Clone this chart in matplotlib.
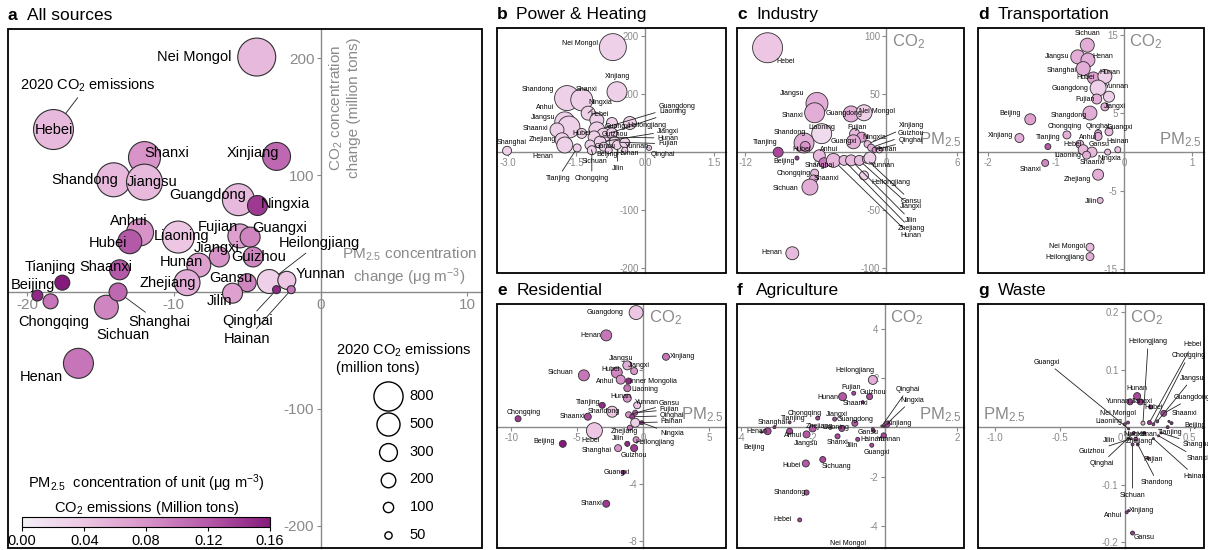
import numpy as np
import matplotlib
matplotlib.use('Agg')
import matplotlib.pyplot as plt
from matplotlib.colors import LinearSegmentedColormap
from matplotlib.patches import Rectangle
from matplotlib.transforms import blended_transform_factory as blend

plt.rcParams['font.family'] = ['Liberation Sans', 'DejaVu Sans']
plt.rcParams['mathtext.default'] = 'regular'

# ---------------- panel a : all sources ----------------
a_names = ['Hebei', 'Nei Mongol', 'Shanxi', 'Shandong', 'Jiangsu', 'Xinjiang', 'Guangdong',
           'Ningxia', 'Liaoning', 'Anhui', 'Hubei', 'Fujian', 'Guangxi', 'Jiangxi', 'Guizhou',
           'Hunan', 'Zhejiang', 'Henan', 'Sichuan', 'Shaanxi', 'Shanghai', 'Heilongjiang',
           'Yunnan', 'Gansu', 'Jilin', 'Tianjing', 'Chongqing', 'Beijing', 'Qinghai', 'Hainan']
a_x = [-18.2, -4.35, -12.0, -14.1, -12.0, -3.0, -5.6, -4.3, -9.7, -12.3, -13.0, -5.5, -4.8,
       -6.9, -4.6, -8.3, -9.1, -16.5, -14.6, -13.7, -13.8, -3.5, -2.3, -5.0, -6.0, -17.6,
       -18.4, -19.3, -3.0, -2.0]
a_y = [139, 201, 115, 96, 94, 116, 79, 74, 47, 51, 43, 48, 47, 30, 30, 23, 8, -61, -13, 19,
       0, 9, 10, 8, -1, 8, -8, -3, 2, 2]
a_emis = [1504, 1357, 963, 1087, 1218, 737, 963, 376, 963, 685, 541, 541, 376, 376, 376, 541,
          635, 846, 541, 376, 305, 541, 305, 305, 376, 211, 211, 114, 60, 60]
a_conc = [0.05, 0.05, 0.08, 0.05, 0.05, 0.11, 0.05, 0.14, 0.04, 0.08, 0.12, 0.07, 0.09, 0.08,
          0.09, 0.07, 0.06, 0.10, 0.09, 0.12, 0.11, 0.03, 0.04, 0.09, 0.07, 0.16, 0.10, 0.15,
          0.15, 0.10]
a_lab = {'Nei Mongol': (-8.6, 201), 'Hebei': (-18.2, 139), 'Shanxi': (-10.5, 119),
         'Xinjiang': (-4.6, 119), 'Shandong': (-16.1, 96), 'Jiangsu': (-11.5, 94),
         'Guangdong': (-7.7, 83), 'Ningxia': (-2.4, 75), 'Anhui': (-13.1, 61),
         'Hubei': (-14.5, 42), 'Liaoning': (-9.5, 48), 'Fujian': (-7.0, 56),
         'Guangxi': (-2.8, 55), 'Heilongjiang': (-0.1, 42), 'Jiangxi': (-7.1, 38),
         'Guizhou': (-4.2, 30), 'Hunan': (-9.5, 26), 'Tianjing': (-18.4, 21),
         'Shaanxi': (-14.6, 21), 'Zhejiang': (-10.4, 8), 'Beijing': (-19.6, 6),
         'Gansu': (-6.1, 12), 'Yunnan': (0.0, 15), 'Jilin': (-6.9, -8),
         'Chongqing': (-18.2, -26), 'Sichuan': (-13.5, -37), 'Shanghai': (-11.0, -26),
         'Qinghai': (-5.0, -25), 'Hainan': (-5.0, -40), 'Henan': (-19.0, -73)}
a_lines = {'Heilongjiang', 'Shanghai', 'Qinghai', 'Hainan'}

# ---------------- panel b : power & heating ----------------
b_names = ['Nei Mongol', 'Shandong', 'Shanxi', 'Xinjiang', 'Anhui', 'Jiangsu', 'Ningxia', 'Hebei',
           'Guangdong', 'Liaoning', 'Shaanxi', 'Zhejiang', 'Henan', 'Hubei', 'Hunan', 'Jiangxi',
           'Sichuan', 'Guangxi', 'Heilongjiang', 'Guizhou', 'Fujian', 'Jilin', 'Yunnan', 'Gansu',
           'Beijing', 'Chongqing', 'Tianjing', 'Hainan', 'Qinghai', 'Shanghai']
b_x = [-0.70, -1.70, -1.38, -0.61, -1.75, -1.66, -1.24, -1.05, -1.05, -0.90, -1.92, -1.81,
       -1.75, -1.38, -1.11, -0.98, -1.20, -0.72, -0.33, -0.72, -0.66, -0.61, -0.44, -0.90,
       -0.79, -1.16, -1.48, -0.44, 0.09, -3.01]
b_y = [181, 93, 90, 104, 52, 43, 67, 55, 38, 29, 38, 21, 12, 32, 26, 17, 12, 50, 50, 32, 17,
       12, 16, 9, 3, 3, 7, 3, 7, 2]
b_emis = [685, 588, 455, 376, 376, 455, 184, 184, 241, 184, 184, 184, 241, 94, 135, 135, 94,
          114, 159, 114, 114, 76, 94, 76, 46, 76, 60, 34, 24, 76]
b_conc = [0.03] * 30
b_lab = {'Nei Mongol': (-1.42, 188), 'Xinjiang': (-0.59, 131), 'Shandong': (-2.33, 108),
         'Shanxi': (-1.27, 107), 'Ningxia': (-0.98, 86), 'Anhui': (-2.18, 76),
         'Jiangsu': (-2.22, 60), 'Hebei': (-0.98, 64), 'Shaanxi': (-2.40, 41),
         'Zhejiang': (-2.25, 21), 'Hubei': (-1.38, 32), 'Shanghai': (-2.90, 16),
         'Henan': (-2.22, -7), 'Sichuan': (-1.09, -17), 'Tianjing': (-1.90, -45),
         'Chongqing': (-1.16, -45), 'Beijing': (-0.83, -5), 'Jilin': (-0.59, -28),
         'Hainan': (-0.37, -3), 'Yunnan': (-0.17, 9), 'Qinghai': (0.39, -4),
         'Guangxi': (-0.60, 44), 'Guizhou': (-0.65, 30), 'Heilongjiang': (0.04, 45),
         'Gansu': (-0.86, 9), 'Guangdong': (0.70, 79), 'Liaoning': (0.61, 69),
         'Jiangxi': (0.50, 36), 'Hunan': (0.50, 24), 'Fujian': (0.50, 14)}
b_lines = {'Sichuan', 'Tianjing', 'Chongqing', 'Jilin', 'Qinghai', 'Guangdong', 'Liaoning',
           'Jiangxi', 'Hunan', 'Fujian', 'Ningxia'}

# ---------------- panel c : industry ----------------
c_names = ['Hebei', 'Jiangsu', 'Shanxi', 'Guangdong', 'Nei Mongol', 'Liaoning', 'Shandong',
           'Hubei', 'Fujian', 'Ningxia', 'Guangxi', 'Tianjing', 'Beijing', 'Anhui', 'Shanghai',
           'Hunan', 'Zhejiang', 'Jilin', 'Jiangxi', 'Gansu', 'Yunnan', 'Heilongjiang',
           'Chongqing', 'Shaanxi', 'Sichuan', 'Henan', 'Xinjiang', 'Guizhou', 'Qinghai', 'Hainan']
c_x = [-10.1, -5.9, -6.1, -3.0, -1.9, -5.5, -7.0, -6.9, -2.7, -2.1, -2.8, -9.2, -7.6, -5.7,
       -5.3, -4.5, -3.6, -3.0, -2.3, -1.7, -1.4, -1.9, -6.1, -6.2, -6.5, -8.0, -1.6, -1.3,
       -1.0, -0.6]
c_y = [90, 42, 34, 33, 34, 16, 8, 5, 16, 13, 9, 0, -5, -3, -9, -7, -7, -7, -7, -6, -5, -20,
       -18, -23, -30, -87, 7, 4, 2, 2]
c_emis = [848, 456, 376, 241, 241, 376, 376, 94, 94, 94, 184, 94, 15, 135, 94, 184, 94, 114,
          94, 60, 135, 76, 60, 60, 241, 159, 46, 46, 24, 34]
c_conc = [0.04, 0.06, 0.06, 0.06, 0.03, 0.02, 0.06, 0.08, 0.05, 0.07, 0.06, 0.13, 0.14, 0.05,
          0.10, 0.05, 0.05, 0.05, 0.05, 0.05, 0.03, 0.03, 0.05, 0.06, 0.06, 0.05, 0.05, 0.06,
          0.08, 0.05]
c_lab = {'Hebei': (-8.6, 78), 'Jiangsu': (-8.0, 51), 'Shanxi': (-8.0, 32),
         'Guangdong': (-3.6, 33), 'Nei Mongol': (-0.8, 35), 'Liaoning': (-5.5, 21),
         'Shandong': (-8.2, 17), 'Fujian': (-2.5, 21), 'Ningxia': (-1.0, 13),
         'Guangxi': (-3.6, 9), 'Tianjing': (-10.3, 8), 'Hubei': (-7.2, 2), 'Anhui': (-4.9, 2),
         'Beijing': (-8.7, -8), 'Shanghai': (-5.7, -11), 'Yunnan': (-0.3, -11),
         'Chongqing': (-7.9, -18), 'Shaanxi': (-5.1, -23), 'Heilongjiang': (0.4, -26),
         'Sichuan': (-8.6, -31), 'Henan': (-9.7, -86), 'Gansu': (2.1, -42),
         'Jiangxi': (2.1, -47), 'Jilin': (2.1, -59), 'Zhejiang': (2.1, -66),
         'Hunan': (2.1, -72), 'Xinjiang': (2.1, 23), 'Guizhou': (2.1, 16),
         'Qinghai': (2.1, 10), 'Hainan': (-0.1, 2)}
c_lines = {'Gansu', 'Jiangxi', 'Jilin', 'Zhejiang', 'Hunan', 'Xinjiang', 'Guizhou', 'Qinghai'}

# ---------------- panel d : transportation ----------------
d_names = ['Sichuan', 'Jiangsu', 'Henan', 'Shanghai', 'Hubei', 'Hunan', 'Guangdong', 'Yunnan',
           'Fujian', 'Jiangxi', 'Shangdong', 'Beijing', 'Chongqing', 'Qinghai', 'Guangxi',
           'Anhui', 'Xinjiang', 'Tianjing', 'Hebei', 'Gansu', 'Liaoning', 'Hainan', 'Ningxia',
           'Shanxi', 'Shaanxi', 'Zhejiang', 'Jilin', 'Nei Mongol', 'Heilongjiang']
d_x = [-0.54, -0.68, -0.53, -0.60, -0.45, -0.28, -0.38, -0.22, -0.40, -0.28, -0.50, -1.38,
       -0.84, -0.38, -0.22, -0.38, -1.54, -1.12, -0.65, -0.60, -0.47, -0.09, -0.24, -1.16,
       -0.55, -0.38, -0.35, -0.50, -0.50]
d_y = [13.7, 12.2, 11.8, 10.7, 9.5, 9.7, 8.2, 7.1, 6.8, 5.8, 5.0, 4.2, 2.2, 2.4, 2.6, 2.0, 1.8,
       0.7, 1.0, 0.3, 0.0, 0.3, 0.0, -1.4, -0.4, -2.9, -6.2, -12.2, -13.4]
d_emis = [184, 184, 184, 184, 135, 184, 241, 114, 94, 60, 184, 114, 60, 46, 60, 60, 76, 34,
          60, 94, 94, 34, 34, 46, 60, 114, 34, 60, 60]
d_conc = [0.06, 0.06, 0.06, 0.06, 0.07, 0.03, 0.03, 0.03, 0.06, 0.06, 0.06, 0.07, 0.06, 0.07,
          0.05, 0.06, 0.06, 0.12, 0.06, 0.05, 0.05, 0.04, 0.05, 0.09, 0.06, 0.06, 0.05, 0.05,
          0.06]
d_lab = {'Sichuan': (-0.53, 15.2), 'Jiangsu': (-0.99, 12.2), 'Henan': (-0.31, 12.2),
         'Shanghai': (-0.91, 10.5), 'Hubei': (-0.57, 9.5), 'Hunan': (-0.21, 10.2),
         'Guangdong': (-0.79, 8.2), 'Yunnan': (-0.10, 8.4), 'Fujian': (-0.57, 6.8),
         'Jiangxi': (-0.13, 5.9), 'Shangdong': (-0.82, 4.7), 'Beijing': (-1.68, 5.0),
         'Chongqing': (-0.88, 3.3), 'Qinghai': (-0.38, 3.3), 'Guangxi': (-0.06, 3.2),
         'Xinjiang': (-1.82, 2.1), 'Tianjing': (-1.12, 1.9), 'Anhui': (-0.53, 1.9),
         'Hainan': (-0.09, 1.4), 'Hebei': (-0.75, 1.0), 'Gansu': (-0.37, 1.0),
         'Liaoning': (-0.82, -0.4), 'Ningxia': (-0.21, -0.8), 'Shaanxi': (-0.47, -1.4),
         'Shanxi': (-1.38, -2.2), 'Zhejiang': (-0.69, -3.5), 'Jilin': (-0.49, -6.3),
         'Nei Mongol': (-0.84, -12.1), 'Heilongjiang': (-0.87, -13.5)}
d_lines = set()

# ---------------- panel e : residential ----------------
e_names = ['Guangdong', 'Henan', 'Xinjiang', 'Jiangsu', 'Jiangxi', 'Sichuan', 'Hubei', 'Anhui',
           'Inner Mongolia', 'Liaoning', 'Hunan', 'Yunnan', 'Tianjing', 'Shandong', 'Chongqing',
           'Shaanxi', 'Gansu', 'Qinghai', 'Fujian', 'Hainan', 'Ningxia', 'Hebei', 'Zhejiang',
           'Beijing', 'Jilin', 'Heilongjiang', 'Shanghai', 'Guizhou', 'Guangxi', 'Shanxi']
e_x = [-0.53, -2.8, 1.74, -1.2, -0.68, -4.5, -2.0, -1.7, -1.1, -1.2, -1.2, -0.45, -3.1, -2.35,
       -9.5, -4.2, -1.1, -0.83, -0.6, -0.6, -0.1, -3.7, -1.0, -6.1, -1.2, -0.53, -1.9, -0.68,
       -1.5, -2.8]
e_y = [8.0, 6.4, 4.9, 4.3, 3.9, 3.6, 3.8, 3.3, 3.2, 2.7, 2.0, 1.5, 1.5, 1.05, 0.56, 0.7, 0.84,
       0.7, 0.98, 0.28, 0.28, -0.28, -0.07, -1.2, -1.2, -0.91, -1.5, -1.5, -3.2, -5.4]
e_emis = [184, 114, 46, 76, 46, 114, 114, 76, 34, 46, 60, 46, 34, 114, 34, 46, 34, 24, 24, 76,
          15, 241, 24, 46, 24, 34, 46, 46, 15, 46]
e_conc = [0.04, 0.10, 0.10, 0.06, 0.08, 0.10, 0.09, 0.08, 0.15, 0.10, 0.08, 0.04, 0.15, 0.04,
          0.14, 0.13, 0.08, 0.14, 0.12, 0.03, 0.15, 0.04, 0.10, 0.16, 0.15, 0.08, 0.08, 0.14,
          0.15, 0.14]
e_lab = {'Guangdong': (-2.9, 8.0), 'Henan': (-4.0, 6.4), 'Xinjiang': (3.0, 4.9),
         'Jiangsu': (-1.7, 4.8), 'Jiangxi': (-0.3, 4.3), 'Sichuan': (-6.3, 3.8),
         'Hubei': (-2.5, 4.0), 'Anhui': (-2.9, 3.2), 'Inner Mongolia': (0.8, 3.2),
         'Liaoning': (0.15, 2.6), 'Hunan': (-1.7, 2.1), 'Yunnan': (0.3, 1.7),
         'Tianjing': (-4.2, 1.7), 'Shandong': (-3.0, 1.1), 'Chongqing': (-9.1, 1.0),
         'Shaanxi': (-5.4, 0.7), 'Gansu': (2.0, 1.6), 'Fujian': (2.0, 1.2),
         'Qinghai': (2.2, 0.77), 'Hainan': (2.2, 0.35), 'Ningxia': (2.2, -0.5),
         'Zhejiang': (-1.4, -0.35), 'Hebei': (-4.0, -1.0), 'Beijing': (-7.5, -1.05),
         'Jilin': (-1.9, -0.84), 'Heilongjiang': (0.9, -1.1), 'Shanghai': (-3.5, -1.7),
         'Guizhou': (-0.68, -2.0), 'Guangxi': (-2.0, -3.2), 'Shanxi': (-3.9, -5.4)}
e_lines = {'Gansu', 'Fujian', 'Qinghai', 'Hainan', 'Ningxia'}

# ---------------- panel f : agriculture ----------------
f_names = ['Heilongjiang', 'Hunan', 'Fujian', 'Guizhou', 'Shaanxi', 'Chongqing', 'Jiangxi',
           'Guangdong', 'Tianjing', 'Shanghai', 'Henan', 'Anhui', 'Zhejiang', 'Jiangsu',
           'Liaoning', 'Shanxi', 'Gansu', 'Jilin', 'Hainan', 'Yunnan', 'Xinjiang', 'Qinghai',
           'Ningxia', 'Guangxi', 'Beijing', 'Hubei', 'Sichuang', 'Shandong', 'Hebei',
           'Nei Mongol']
f_x = [-0.33, -1.17, -0.86, -0.42, -0.61, -1.86, -1.39, -0.83, -2.64, -3.06, -3.25, -2.64,
       -2.0, -2.17, -1.19, -1.31, -0.33, -0.75, -0.30, -0.03, 0.06, -0.08, -0.02, -0.36,
       -3.42, -2.19, -1.72, -2.17, -2.36, -1.03]
f_y = [1.92, 1.24, 1.38, 1.24, 1.02, 0.37, 0.33, 0.16, 0.2, 0.0, -0.16, -0.16, -0.05, -0.29,
       -0.05, -0.37, -0.08, -0.49, -0.15, -0.33, 0.12, 0.05, 0.03, -0.73, -0.2, -1.47, -1.31,
       -2.65, -3.76, -5.3]
f_emis = [76, 60, 15, 34, 8, 15, 15, 34, 8, 8, 46, 34, 46, 46, 34, 24, 8, 15, 8, 24, 34, 4, 4,
          15, 4, 46, 34, 24, 15, 15]
f_conc = [0.06, 0.12, 0.13, 0.13, 0.14, 0.13, 0.13, 0.12, 0.14, 0.14, 0.13, 0.13, 0.12, 0.12,
          0.13, 0.13, 0.14, 0.13, 0.14, 0.13, 0.13, 0.14, 0.14, 0.13, 0.14, 0.12, 0.13, 0.13,
          0.13, 0.13]
f_lab = {'Heilongjiang': (-0.83, 2.29), 'Fujian': (-0.94, 1.63), 'Guizhou': (-0.33, 1.39),
         'Hunan': (-1.58, 1.22), 'Shaanxi': (-0.81, 0.98), 'Qinghai': (0.64, 1.55),
         'Ningxia': (0.75, 1.1), 'Chongqing': (-2.22, 0.57), 'Jiangxi': (-1.33, 0.53),
         'Guangdong': (-0.81, 0.33), 'Tianjing': (-2.55, 0.37), 'Shanghai': (-3.11, 0.2),
         'Henan': (-3.56, -0.16), 'Anhui': (-2.55, -0.33), 'Zhejiang': (-1.81, 0.04),
         'Liaoning': (-1.36, 0.0), 'Jiangsu': (-2.17, -0.65), 'Shanxi': (-1.31, -0.61),
         'Gansu': (-0.47, -0.2), 'Jilin': (-0.92, -0.73), 'Hainan': (-0.36, -0.49),
         'Yunnan': (0.11, -0.49), 'Xinjiang': (0.42, 0.16), 'Guangxi': (-0.22, -1.02),
         'Beijing': (-3.64, -0.82), 'Hubei': (-2.58, -1.55), 'Sichuang': (-1.33, -1.59),
         'Shandong': (-2.64, -2.65), 'Hebei': (-2.83, -3.76), 'Nei Mongol': (-1.03, -4.73)}
f_lines = {'Qinghai', 'Ningxia'}

# ---------------- panel g : waste ----------------
g_names = ['Hunan', 'Yunnan', 'Jiangxi', 'Guangdong', 'Shaanxi', 'Hubei', 'Nei Mongol',
           'Liaoning', 'Heilongjiang', 'Hebei', 'Chongqing', 'Jiangsu', 'Beijing', 'Tianjing',
           'Jilin', 'Ningxia', 'Henan', 'Zhejiang', 'Fujian', 'Shanghai', 'Shanxi', 'Hainan',
           'Guangxi', 'Guizhou', 'Qinghai', 'Sichuan', 'Shandong', 'Anhui', 'Xinjiang', 'Gansu']
g_x = [0.095, 0.04, 0.12, 0.30, 0.34, 0.20, 0.025, 0.0, 0.14, 0.19, 0.22, 0.25, 0.36, 0.33,
       0.025, 0.07, 0.15, 0.085, 0.18, 0.28, 0.26, 0.22, 0.03, 0.05, 0.06, 0.06, 0.10, 0.015,
       0.03, 0.06]
g_y = [0.054, 0.044, 0.044, 0.024, 0.010, 0.035, 0.008, 0.005, 0.007, 0.008, 0.005, 0.010,
       0.007, 0.0, -0.019, -0.010, -0.010, -0.021, -0.054, -0.010, -0.015, -0.020, -0.003,
       -0.020, -0.012, -0.030, -0.030, -0.148, -0.145, -0.184]
g_emis = [46, 34, 34, 34, 4, 15, 8, 8, 15, 15, 8, 8, 8, 8, 4, 8, 8, 15, 8, 4, 4, 4, 4, 4, 4,
          8, 8, 8, 4, 15]
g_conc = [0.13, 0.14, 0.14, 0.13, 0.14, 0.14, 0.14, 0.14, 0.06, 0.14, 0.14, 0.14, 0.15, 0.15,
          0.14, 0.14, 0.14, 0.13, 0.14, 0.14, 0.14, 0.14, 0.14, 0.14, 0.14, 0.14, 0.14, 0.14,
          0.14, 0.14]
g_lab = {'Heilongjiang': (0.18, 0.148), 'Hebei': (0.52, 0.143), 'Chongqing': (0.49, 0.124),
         'Jiangsu': (0.52, 0.085), 'Guangdong': (0.52, 0.052), 'Shaanxi': (0.46, 0.023),
         'Beijing': (0.54, 0.003), 'Tianjing': (0.35, -0.009), 'Shanghai': (0.56, -0.03),
         'Shanxi': (0.56, -0.054), 'Hainan': (0.54, -0.085), 'Fujian': (0.22, -0.057),
         'Shandong': (0.25, -0.096), 'Sichuan': (0.06, -0.118), 'Xinjiang': (0.13, -0.144),
         'Anhui': (-0.09, -0.153), 'Gansu': (0.15, -0.191), 'Guangxi': (-0.60, 0.113),
         'Hunan': (0.095, 0.068), 'Yunnan': (-0.05, 0.044), 'Jiangxi': (0.13, 0.044),
         'Hubei': (0.22, 0.035), 'Nei Mongol': (-0.05, 0.024), 'Liaoning': (-0.12, 0.009),
         'Jilin': (-0.12, -0.024), 'Guizhou': (-0.25, -0.042), 'Qinghai': (-0.18, -0.063),
         'Ningxia': (0.08, -0.012), 'Henan': (0.17, -0.012), 'Zhejiang': (0.11, -0.025)}
g_lines = {'Heilongjiang', 'Hebei', 'Chongqing', 'Jiangsu', 'Guangdong', 'Shanghai', 'Shanxi',
           'Hainan', 'Shandong', 'Sichuan', 'Guangxi', 'Guizhou', 'Qinghai'}

legend_vals = [800, 500, 300, 200, 100, 50]
cbar_ticks = [0.00, 0.04, 0.08, 0.12, 0.16]

SIZE_K = 0.55
GREY = '#8a8a8a'
cmap = LinearSegmentedColormap.from_list(
    'pm', ['#f4f0f7', '#ecc6e3', '#d894c9', '#b55aa8', '#861a7c'])


def setup(ax, xlim, ylim, xticks, yticks, xfmt, yfmt, tfs):
    ax.set_xlim(xlim)
    ax.set_ylim(ylim)
    for side in ['left', 'bottom']:
        ax.spines[side].set_position(('data', 0))
        ax.spines[side].set_color(GREY)
        ax.spines[side].set_linewidth(1.0)
        ax.spines[side].set_zorder(1)
    for side in ['top', 'right']:
        ax.spines[side].set_visible(False)
    ax.add_patch(Rectangle((0, 0), 1, 1, transform=ax.transAxes, fill=False,
                           lw=1.3, ec='black', zorder=8, clip_on=False))
    ax.set_xticks(xticks)
    ax.set_xticklabels([xfmt % v for v in xticks])
    ax.set_yticks(yticks)
    ax.set_yticklabels([yfmt % v for v in yticks])
    ax.tick_params(colors=GREY, labelsize=tfs, length=3, width=0.8, pad=1.5)
    ax.set_axisbelow(True)


def draw(ax, names, xs, ys, emis, conc, labels, lines, fs, lw, clip):
    size = np.asarray(emis, dtype=float) * SIZE_K
    ax.scatter(xs, ys, s=size, c=conc, cmap=cmap, vmin=0, vmax=0.16,
               edgecolors='#2e2e2e', linewidths=lw, zorder=3)
    for n, x, y, s in zip(names, xs, ys, size):
        if n not in labels:
            continue
        lx, ly = labels[n]
        if n in lines:
            t = ax.annotate(n, xy=(x, y), xytext=(lx, ly), ha='center', va='center',
                            fontsize=fs, zorder=5, annotation_clip=False,
                            arrowprops=dict(arrowstyle='-', lw=0.6, color='#222222',
                                            shrinkA=0.5, shrinkB=np.sqrt(s) / 2))
        else:
            t = ax.text(lx, ly, n, ha='center', va='center', fontsize=fs, zorder=5)
        t.set_clip_on(clip)


def title(ax, letter, name, fs):
    ax.annotate(letter, xy=(0, 1), xycoords='axes fraction', xytext=(0, 4),
                textcoords='offset points', fontsize=fs, fontweight='bold', va='bottom')
    ax.annotate(name, xy=(0, 1), xycoords='axes fraction', xytext=(14, 4),
                textcoords='offset points', fontsize=fs, va='bottom')


def axis_names(ax, pm_left=False):
    ax.annotate('CO$_2$', xy=(0, 1), xycoords=blend(ax.transData, ax.transAxes),
                xytext=(4, -3), textcoords='offset points', fontsize=12, color=GREY,
                ha='left', va='top')
    if pm_left:
        ax.annotate('PM$_{2.5}$', xy=(0.02, 0), xycoords=blend(ax.transAxes, ax.transData),
                    xytext=(0, 2), textcoords='offset points', fontsize=12, color=GREY,
                    ha='left', va='bottom')
    else:
        ax.annotate('PM$_{2.5}$', xy=(0.99, 0), xycoords=blend(ax.transAxes, ax.transData),
                    xytext=(0, 2), textcoords='offset points', fontsize=12, color=GREY,
                    ha='right', va='bottom')


fig = plt.figure(figsize=(12.08, 5.5), dpi=100)
W, H = 1208, 550


def px_axes(x0, y0, x1, y1):
    return fig.add_axes([x0 / W, 1 - y1 / H, (x1 - x0) / W, (y1 - y0) / H])


ax_a = px_axes(8, 29, 482, 548)
ax_b = px_axes(497, 28, 726, 273)
ax_c = px_axes(737, 28, 964, 273)
ax_d = px_axes(978, 28, 1204, 273)
ax_e = px_axes(497, 304, 726, 548)
ax_f = px_axes(737, 304, 964, 548)
ax_g = px_axes(978, 304, 1204, 548)

# panel a
setup(ax_a, (-21.3, 11), (-219, 225), [-20, -10, 0, 10], [-200, -100, 100, 200],
      '%d', '%d', 11)
draw(ax_a, a_names, a_x, a_y, a_emis, a_conc, a_lab, a_lines, 10.5, 0.8, False)
title(ax_a, 'a', 'All sources', 12.5)
hebei = a_names.index('Hebei')
ax_a.annotate('2020 CO$_2$ emissions', xy=(a_x[hebei], a_y[hebei]), xytext=(-15.9, 177),
              ha='center', va='center', fontsize=10.5,
              arrowprops=dict(arrowstyle='-', lw=0.7, color='#333333', shrinkA=1,
                              shrinkB=np.sqrt(a_emis[hebei] * SIZE_K) / 2))
ax_a.annotate('CO$_2$ concentration\nchange (million tons)', xy=(0, 1),
              xycoords=blend(ax_a.transData, ax_a.transAxes), xytext=(5, -6),
              textcoords='offset points', rotation=90, ha='left', va='top',
              fontsize=11, color=GREY, multialignment='center')
ax_a.annotate('PM$_{2.5}$ concentration\nchange (μg m$^{-3}$)', xy=(0.99, 0),
              xycoords=blend(ax_a.transAxes, ax_a.transData), xytext=(0, 3),
              textcoords='offset points', ha='right', va='bottom', fontsize=11,
              color=GREY, multialignment='center')

# size legend
handles = [ax_a.scatter([], [], s=v * SIZE_K, facecolor='white', edgecolor='black', lw=1)
           for v in legend_vals]
leg = ax_a.legend(handles, [str(v) for v in legend_vals],
                  title='2020 CO$_2$ emissions\n(million tons)', loc='lower center',
                  bbox_to_anchor=(0.835, 0.0), frameon=False, fontsize=10.5,
                  title_fontsize=10.5, labelspacing=0.95, handletextpad=0.5,
                  borderpad=0.2, borderaxespad=0.2)

# colorbar
cax = ax_a.inset_axes([0.030, 0.040, 0.523, 0.019])
sm = plt.cm.ScalarMappable(cmap=cmap, norm=plt.Normalize(0, 0.16))
cb = fig.colorbar(sm, cax=cax, orientation='horizontal', ticks=cbar_ticks)
cb.ax.set_xticklabels(['%.2f' % t for t in cbar_ticks])
cb.ax.tick_params(labelsize=10.5, length=3, pad=2)
cb.outline.set_linewidth(0.8)
cax.set_title('PM$_{2.5}$  concentration of unit (μg m$^{-3}$)\nCO$_2$ emissions (Million tons)',
              fontsize=10.5, pad=4, linespacing=1.4)

# panel b
setup(ax_b, (-3.23, 1.77), (-209, 214), [-3.0, -1.5, 0.0, 1.5], [-200, -100, 100, 200],
      '%.1f', '%d', 7)
draw(ax_b, b_names, b_x, b_y, b_emis, b_conc, b_lab, b_lines, 5, 0.6, True)
title(ax_b, 'b', 'Power & Heating', 12.5)

# panel c
setup(ax_c, (-12.7, 6.6), (-104, 107), [-12, -6, 0, 6], [-100, -50, 50, 100], '%d', '%d', 7)
draw(ax_c, c_names, c_x, c_y, c_emis, c_conc, c_lab, c_lines, 5, 0.6, True)
title(ax_c, 'c', 'Industry', 12.5)
axis_names(ax_c)

# panel d
setup(ax_d, (-2.15, 1.18), (-15.5, 15.9), [-2, -1, 0, 1], [-15, -5, 5, 15], '%d', '%d', 7)
draw(ax_d, d_names, d_x, d_y, d_emis, d_conc, d_lab, d_lines, 5, 0.6, True)
title(ax_d, 'd', 'Transportation', 12.5)
axis_names(ax_d)

# panel e
setup(ax_e, (-11.1, 6.3), (-8.5, 8.6), [-10, -5, 0, 5], [-8, -4, 4, 8], '%d', '%d', 7)
draw(ax_e, e_names, e_x, e_y, e_emis, e_conc, e_lab, e_lines, 5, 0.6, True)
title(ax_e, 'e', 'Residential', 12.5)
axis_names(ax_e)

# panel f
setup(ax_f, (-4.1, 2.2), (-4.9, 5.0), [-4, -2, 0, 2], [-4, -2, 2, 4], '%d', '%d', 7)
draw(ax_f, f_names, f_x, f_y, f_emis, f_conc, f_lab, f_lines, 5, 0.6, True)
title(ax_f, 'f', 'Agriculture', 12.5)
axis_names(ax_f)

# panel g
setup(ax_g, (-1.13, 0.61), (-0.21, 0.214), [-1.0, -0.5, 0.0, 0.5], [-0.2, -0.1, 0.1, 0.2],
      '%.1f', '%.1f', 7)
draw(ax_g, g_names, g_x, g_y, g_emis, g_conc, g_lab, g_lines, 5, 0.6, True)
title(ax_g, 'g', 'Waste', 12.5)
axis_names(ax_g, pm_left=True)

fig.savefig('out.png', dpi=100)
